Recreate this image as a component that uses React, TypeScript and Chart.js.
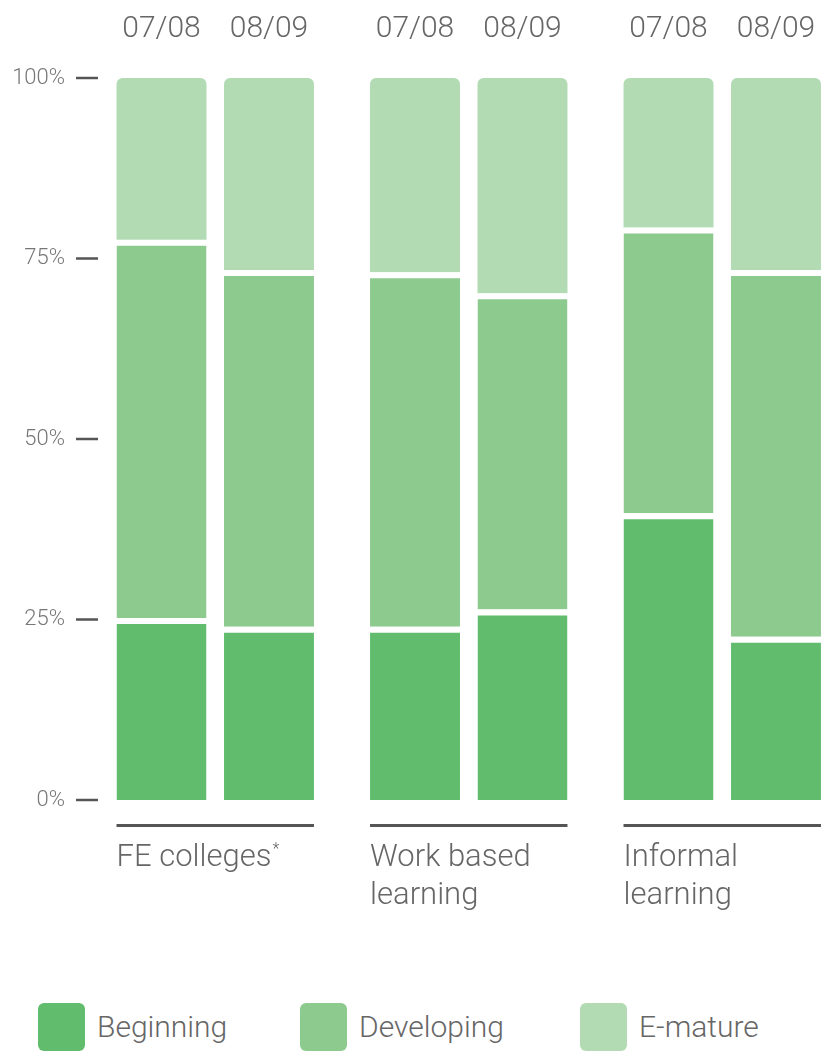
import React, { useEffect, useRef } from 'react';
import { Chart, registerables } from 'chart.js';

Chart.register(...registerables);

const groups = ['FE colleges*', 'Work based learning', 'Informal learning'];
const groupLines = [['FE colleges*'], ['Work based', 'learning'], ['Informal', 'learning']];
const periods = ['07/08', '08/09'];
const levels = ['Beginning', 'Developing', 'E-mature'];
const colors = ['#61bd6d', '#8cca8e', '#b2dbb3'];

const beginning0708 = [25.2, 24.0, 39.7];
const developing0708 = [52.4, 49.1, 39.6];
const emature0708 = [22.4, 26.9, 20.7];
const beginning0809 = [24.0, 26.4, 22.6];
const developing0809 = [49.4, 43.8, 50.8];
const emature0809 = [26.6, 29.8, 26.6];

const yTicks = [0, 25, 50, 75, 100];

const FONT = 'Roboto, "DejaVu Sans", sans-serif';
const TEXT = '#666666';

const overlayPlugin = {
  id: 'overlay',
  afterDatasetsDraw(chart: any) {
    const { ctx, chartArea, scales } = chart;
    const y = scales.y;
    ctx.save();
    // y tick dashes
    ctx.strokeStyle = '#555555';
    ctx.lineWidth = 2.5;
    yTicks.forEach((v) => {
      const py = y.getPixelForValue(v);
      ctx.beginPath();
      ctx.moveTo(y.right - 12.5, py);
      ctx.lineTo(y.right + 9.5, py);
      ctx.stroke();
    });
    // period labels above bars
    ctx.fillStyle = TEXT;
    ctx.font = `300 30px ${FONT}`;
    ctx.textAlign = 'center';
    ctx.textBaseline = 'alphabetic';
    [2, 5].forEach((di, p) => {
      chart.getDatasetMeta(di).data.forEach((el: any) => {
        ctx.fillText(periods[p], el.x, chartArea.top - 41);
      });
    });
    // group underline + labels
    const firstMeta = chart.getDatasetMeta(0);
    const lastMeta = chart.getDatasetMeta(3);
    groups.forEach((g, i) => {
      const a = firstMeta.data[i];
      const b = lastMeta.data[i];
      const left = a.x - a.width / 2;
      const right = b.x + b.width / 2;
      const ly = chartArea.bottom + 25.5;
      ctx.strokeStyle = '#555555';
      ctx.lineWidth = 3;
      ctx.beginPath();
      ctx.moveTo(left, ly);
      ctx.lineTo(right, ly);
      ctx.stroke();
      ctx.textAlign = 'left';
      ctx.fillStyle = TEXT;
      groupLines[i].forEach((line, li) => {
        const by = chartArea.bottom + 66 + li * 38;
        let txt = line;
        let star = false;
        if (txt.endsWith('*')) {
          txt = txt.slice(0, -1);
          star = true;
        }
        ctx.font = `300 31px ${FONT}`;
        ctx.fillText(txt, left, by);
        if (star) {
          const w = ctx.measureText(txt).width;
          ctx.font = `300 16px ${FONT}`;
          ctx.fillText('*', left + w + 1, by - 12);
        }
      });
    });
    ctx.restore();
  },
};

export default function App() {
  const canvasRef = useRef<HTMLCanvasElement | null>(null);

  useEffect(() => {
    const canvas = canvasRef.current;
    if (!canvas) return;
    const series = [
      [beginning0708, developing0708, emature0708],
      [beginning0809, developing0809, emature0809],
    ];
    const datasets: any[] = [];
    series.forEach((s, p) => {
      s.forEach((data, l) => {
        datasets.push({
          label: levels[l],
          data,
          stack: periods[p],
          backgroundColor: colors[l],
          borderColor: '#ffffff',
          borderWidth: l < 2 ? { top: 6, left: 0, right: 0, bottom: 0 } : 0,
          borderSkipped: false,
          borderRadius: l === 2 ? { topLeft: 6, topRight: 6, bottomLeft: 0, bottomRight: 0 } : 0,
          categoryPercentage: 0.848,
          barPercentage: 0.837,
          inflateAmount: 0,
        });
      });
    });
    const chart = new Chart(canvas, {
      type: 'bar',
      data: { labels: groups, datasets },
      options: {
        animation: false,
        responsive: true,
        maintainAspectRatio: false,
        layout: { padding: { top: 78, bottom: 140, left: 0, right: 0 } },
        plugins: {
          legend: { display: false },
          tooltip: { enabled: false },
        },
        scales: {
          x: { stacked: true, display: false },
          y: {
            stacked: true,
            min: 0,
            max: 100,
            grid: { display: false, drawTicks: false },
            border: { display: false },
            afterFit: (s: any) => {
              s.width = 88.5;
            },
            afterBuildTicks: (s: any) => {
              s.ticks = yTicks.map((v) => ({ value: v }));
            },
            ticks: {
              padding: 23.5,
              color: '#777777',
              font: { family: FONT, size: 22, weight: 300 as any },
              callback: (v: any) => v + '%',
            },
          },
        },
      },
      plugins: [overlayPlugin],
    });
    return () => chart.destroy();
  }, []);

  const legendLeft = [38, 300, 580];
  return (
    <div style={{ position: 'absolute', left: 0, top: 0, width: 821, height: 1051, overflow: 'hidden', background: '#fff' }}>
      <div style={{ position: 'absolute', left: 0, top: 0, width: 849, height: 940 }}>
        <canvas ref={canvasRef} />
      </div>
      {levels.map((lv, i) => (
        <div key={lv} style={{ position: 'absolute', left: legendLeft[i], top: 1003, height: 48, display: 'flex', alignItems: 'center' }}>
          <div style={{ width: 47, height: 48, borderRadius: 6, background: colors[i] }} />
          <div style={{ marginLeft: 12, font: `300 30px ${FONT}`, color: TEXT, lineHeight: '48px', whiteSpace: 'nowrap' }}>{lv}</div>
        </div>
      ))}
    </div>
  );
}
